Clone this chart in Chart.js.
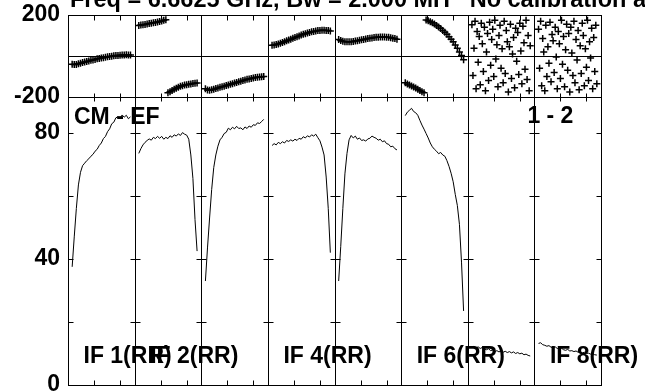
<!DOCTYPE html>
<html>
<head>
<meta charset="utf-8">
<script src="https://cdn.jsdelivr.net/npm/chart.js@4.4.1/dist/chart.umd.min.js"></script>
<style>
  html, body { margin: 0; padding: 0; background: #fff; }
  canvas { display: block; }
</style>
</head>
<body>
<canvas id="possm" width="645" height="392"></canvas>
<script>
// POSSM-style spectrum: phase (top) and amplitude (bottom) for 8 IFs, baseline CM - EF
const TITLE = 'Freq = 6.6625 GHz, Bw = 2.000 MH   No calibration a';
const BASELINE_LEFT = 'CM - EF';
const BASELINE_RIGHT = '1 - 2';
const IF_NAMES = ['IF 1(RR)', 'IF 2(RR)', 'IF 3(RR)', 'IF 4(RR)', 'IF 5(RR)', 'IF 6(RR)', 'IF 7(RR)', 'IF 8(RR)'];
const IF_NAMES_SHOWN = [0, 1, 3, 5, 7];
const CHANNELS_PER_IF = 64;
const CHANNEL_TICKS = [25, 50];

const PHASE_TICKS = [-200, 200];
const AMP_TICKS = [0, 40, 80];
const AMP_MINOR = [20, 40, 60, 80];

const CHANNELS = [4, 6, 8, 10, 12, 14, 16, 18, 20, 22, 24, 26, 28, 30, 32, 34, 36, 38, 40, 42, 44, 46, 48, 50, 52, 54, 56, 58, 60];
const CHANNELS_ALL = [4, 5, 6, 7, 8, 9, 10, 11, 12, 13, 14, 15, 16, 17, 18, 19, 20, 21, 22, 23, 24, 25, 26, 27, 28, 29, 30, 31, 32,
  33, 34, 35, 36, 37, 38, 39, 40, 41, 42, 43, 44, 45, 46, 47, 48, 49, 50, 51, 52, 53, 54, 55, 56, 57, 58, 59, 60];

// amplitude per IF (on CHANNELS)
const AMP_IF1 = [37.5, 47.0, 56.0, 63.5, 67.5, 69.6, 70.4, 71.2, 71.8, 72.6, 73.2, 74.2, 74.8, 76.0, 76.8, 78.2, 78.9, 80.4, 81.3, 82.9, 83.4, 84.8, 85.1, 84.6, 85.7, 85.0, 85.6, 84.5, 85.1];
const AMP_IF2 = [73.5, 75.0, 76.2, 77.0, 77.6, 78.1, 77.7, 78.6, 78.2, 78.9, 78.3, 78.9, 78.0, 78.6, 78.2, 79.1, 78.6, 79.4, 79.0, 79.7, 79.2, 80.1, 79.6, 79.3, 78.0, 73.0, 65.5, 52.5, 42.5];
const AMP_IF3 = [33.0, 43.5, 53.0, 62.0, 69.0, 73.0, 75.8, 77.8, 78.6, 79.8, 80.2, 81.5, 81.0, 81.8, 81.3, 82.1, 81.4, 81.6, 81.0, 81.9, 81.4, 82.2, 81.8, 82.6, 82.4, 83.2, 83.0, 83.6, 84.3];
const AMP_IF4 = [76.0, 76.6, 76.2, 77.0, 76.6, 77.2, 76.8, 77.6, 77.3, 77.8, 77.4, 78.0, 77.6, 78.3, 78.0, 78.8, 78.4, 79.1, 78.7, 79.4, 79.0, 79.6, 78.5, 77.5, 75.5, 73.0, 66.0, 56.0, 42.0];
const AMP_IF5 = [33.0, 44.0, 56.0, 67.0, 73.5, 77.8, 79.2, 78.4, 79.0, 78.0, 78.4, 77.6, 77.8, 77.4, 78.1, 78.3, 79.0, 78.6, 78.3, 77.7, 78.0, 77.2, 77.5, 76.6, 76.4, 75.6, 75.8, 75.0, 74.6];
const AMP_IF6 = [85.5, 86.6, 87.2, 87.8, 86.8, 86.4, 85.6, 84.0, 82.5, 81.2, 79.8, 78.4, 76.8, 75.6, 74.8, 74.2, 73.4, 73.8, 73.0, 72.6, 71.2, 69.4, 67.2, 64.5, 60.5, 57.0, 51.0, 39.0, 23.5];
const AMP_IF7 = [12.0, 12.3, 11.8, 12.1, 11.6, 11.9, 11.4, 11.2, 11.5, 10.9, 11.1, 10.6, 10.9, 10.5, 10.8, 10.4, 10.7, 10.3, 10.6, 10.2, 10.5, 10.0, 10.3, 9.9, 10.1, 9.6, 9.8, 9.4, 9.2];
const AMP_IF8 = [13.2, 13.4, 12.8, 12.6, 12.3, 12.5, 12.0, 11.8, 12.1, 11.6, 11.4, 11.7, 11.2, 11.0, 11.3, 10.8, 10.9, 10.6, 10.8, 10.4, 10.5, 10.2, 10.4, 10.0, 10.1, 9.8, 9.9, 9.6, 9.5];

// phase per IF, degrees (IF1-6 on CHANNELS, IF7-8 on CHANNELS_ALL)
const PHASE_IF1 = [-40, -42, -41, -38, -35, -32, -29, -27, -24, -21, -19, -17, -14, -12, -10, -8, -6, -4, -2, -1, 1, 2, 3, 4, 5, 5, 6, 5, 5];
const PHASE_IF2 = [149, 151, 152, 154, 156, 158, 160, 162, 164, 166, 168, 171, 174, 177, -179, -174, -168, -162, -157, -152, -148, -145, -142, -140, -138, -136, -134, -133, -132];
const PHASE_IF3 = [-160, -166, -167, -165, -162, -159, -156, -153, -150, -147, -144, -141, -138, -135, -132, -129, -126, -123, -120, -117, -114, -112, -110, -107, -105, -104, -102, -101, -100];
const PHASE_IF4 = [52, 54, 56, 59, 62, 66, 70, 74, 78, 82, 86, 90, 94, 98, 102, 106, 109, 112, 115, 118, 120, 122, 124, 125, 126, 126, 125, 124, 122];
const PHASE_IF5 = [80, 76, 72, 70, 69, 69, 70, 71, 73, 75, 77, 79, 81, 83, 85, 87, 88, 90, 91, 92, 93, 93, 93, 92, 91, 89, 87, 85, 82];
const PHASE_IF6 = [-131, -136, -141, -146, -151, -156, -162, -168, -174, -179, 176, 172, 167, 162, 156, 149, 142, 134, 125, 116, 106, 94, 82, 69, 54, 38, 20, 2, -18];
const PHASE_IF7 = [152, -95, 38, 170, -160, 120, -30, 95, -140, 160, 60, -75, 140, -170, 20, 110, -120, 165, -45, 80,
  130, -100, 175, -15, 55, -150, 100, 150, -60, 35, -130, 170, -85, 125, 70, -175, 45, 155, -110, 10,
  90, -155, 135, -25, 115, -90, 160, 25, -135, 145, 65, -65, 175, -115, 100, -170, 50];
const PHASE_IF8 = [130, -60, 170, -145, 85, 20, -170, 150, -100, 45, -35, 165, -125, 105, 75, -80, 140, -5, -160, 120,
  60, -110, 175, -40, 95, -150, 30, 155, -70, 110, -175, 140, 15, -95, 170, -130, 80, -20, 125, -165,
  50, -85, 160, 100, -145, 35, -55, 175, -120, 70, -10, 135, -160, 90, -75, 150, -135];

const AMPS = [AMP_IF1, AMP_IF2, AMP_IF3, AMP_IF4, AMP_IF5, AMP_IF6, AMP_IF7, AMP_IF8];
const PHASES = [PHASE_IF1, PHASE_IF2, PHASE_IF3, PHASE_IF4, PHASE_IF5, PHASE_IF6, PHASE_IF7, PHASE_IF8];

const FONT = '"Liberation Sans", Arial, Helvetica, sans-serif';
const INK = '#000';

// each IF occupies one unit on the x scale
function toPoints(ifIndex, channels, values) {
  return values.map((v, k) => ({ x: ifIndex + channels[k] / CHANNELS_PER_IF, y: v }));
}

const datasets = [];
AMPS.forEach((vals, i) => {
  datasets.push({
    type: 'line',
    label: IF_NAMES[i] + ' amp',
    data: toPoints(i, CHANNELS, vals),
    yAxisID: 'amp',
    borderColor: INK,
    borderWidth: 1,
    pointRadius: 0,
    tension: 0
  });
});
PHASES.forEach((vals, i) => {
  const chans = vals.length === CHANNELS_ALL.length ? CHANNELS_ALL : CHANNELS;
  datasets.push({
    type: 'scatter',
    label: IF_NAMES[i] + ' phase',
    data: toPoints(i, chans, vals),
    yAxisID: 'phase',
    pointStyle: 'cross',
    pointRadius: 3.5,
    borderColor: INK,
    borderWidth: 1.5,
    backgroundColor: INK
  });
});

const crisp = v => Math.round(v) + 0.5;

// frame, panel dividers and tick marks
const possmFrame = {
  id: 'possmFrame',
  beforeDatasetsDraw(chart) {
    const { ctx, chartArea: a, scales: { x, phase, amp } } = chart;
    ctx.save();
    ctx.strokeStyle = INK;
    ctx.lineWidth = 1;
    ctx.beginPath();
    [phase.getPixelForValue(200), phase.getPixelForValue(0), phase.getPixelForValue(-200), amp.getPixelForValue(0)]
      .forEach(py => { ctx.moveTo(a.left, crisp(py)); ctx.lineTo(a.right + 1, crisp(py)); });
    for (let i = 0; i <= IF_NAMES.length; i++) {
      const px = crisp(x.getPixelForValue(i));
      ctx.moveTo(px, a.top);
      ctx.lineTo(px, a.bottom + 1);
      AMP_MINOR.forEach(v => {
        const py = crisp(amp.getPixelForValue(v));
        ctx.moveTo(i === 0 ? px : px - 5, py);
        ctx.lineTo(i === IF_NAMES.length ? px : px + 5, py);
      });
    }
    const yTop = crisp(phase.getPixelForValue(200));
    const yMid = crisp(phase.getPixelForValue(-200));
    const yBot = crisp(amp.getPixelForValue(0));
    for (let i = 0; i < IF_NAMES.length; i++) {
      CHANNEL_TICKS.forEach(c => {
        const px = crisp(x.getPixelForValue(i + c / CHANNELS_PER_IF));
        ctx.moveTo(px, yTop); ctx.lineTo(px, yTop + 5);
        ctx.moveTo(px, yMid - 4); ctx.lineTo(px, yMid + 4);
        ctx.moveTo(px, yBot - 5); ctx.lineTo(px, yBot);
      });
    }
    ctx.stroke();
    ctx.restore();
  },
  afterDraw(chart) {
    const { ctx, chartArea: a, scales: { x, amp } } = chart;
    ctx.save();
    ctx.fillStyle = INK;
    ctx.textBaseline = 'alphabetic';
    ctx.textAlign = 'left';
    ctx.font = 'bold 23.5px ' + FONT;
    ctx.fillText(TITLE, a.left + 2, 7);
    ctx.font = 'bold 23px ' + FONT;
    const ampTop = amp.top;
    ctx.fillText(BASELINE_LEFT, a.left + 6, ampTop + 27);
    ctx.fillText(BASELINE_RIGHT, x.getPixelForValue(7) - 7, ampTop + 26);
    const yLab = amp.getPixelForValue(0) - 22;
    IF_NAMES_SHOWN.forEach(i => {
      ctx.fillText(IF_NAMES[i], x.getPixelForValue(i) + 15.5, yLab);
    });
    ctx.restore();
  }
};

const tickFont = { family: FONT, size: 23, weight: 'bold' };

// fixed axis column, no extra room reserved for the end labels
function fitYAxis(s) {
  s.width = 68;
  s.paddingTop = 0;
  s.paddingBottom = 0;
}

new Chart(document.getElementById('possm'), {
  data: { datasets },
  options: {
    responsive: false,
    devicePixelRatio: 1,
    animation: false,
    events: [],
    layout: { padding: { top: 15, right: 44, bottom: 7, left: 0 } },
    plugins: { legend: { display: false }, tooltip: { enabled: false }, title: { display: false } },
    scales: {
      x: {
        type: 'linear',
        min: 0,
        max: IF_NAMES.length,
        display: false
      },
      amp: {
        type: 'linear',
        position: 'left',
        stack: 'possm',
        stackWeight: 288,
        min: 0,
        max: 91.4,
        grid: { display: false },
        border: { display: false },
        afterBuildTicks: s => { s.ticks = AMP_TICKS.map(v => ({ value: v })); },
        afterFit: fitYAxis,
        ticks: { font: tickFont, color: INK, padding: 0, autoSkip: false }
      },
      phase: {
        type: 'linear',
        position: 'left',
        stack: 'possm',
        stackWeight: 82,
        min: -200,
        max: 200,
        grid: { display: false },
        border: { display: false },
        afterBuildTicks: s => { s.ticks = PHASE_TICKS.map(v => ({ value: v })); },
        afterFit: fitYAxis,
        ticks: { font: tickFont, color: INK, padding: 0, autoSkip: false }
      }
    }
  },
  plugins: [possmFrame]
});
</script>
</body>
</html>
